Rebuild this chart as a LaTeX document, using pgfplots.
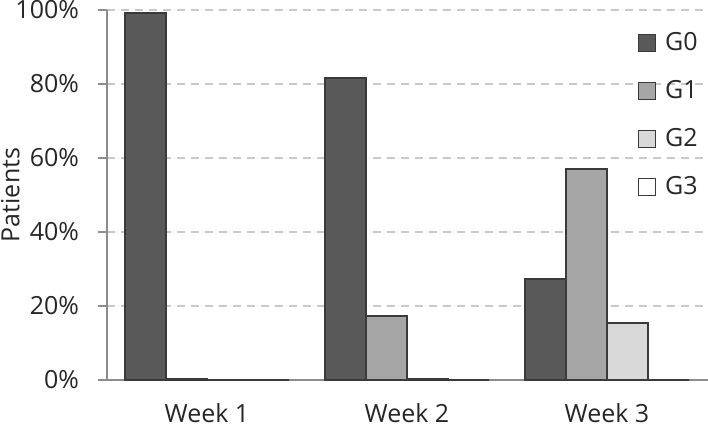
\documentclass[border=0pt]{standalone}
\usepackage{pgfplots}
\pgfplotsset{compat=1.18}
\usepackage{fontspec}
\setmainfont{Open Sans}
\definecolor{gzero}{HTML}{595959}
\definecolor{gone}{HTML}{A6A6A6}
\definecolor{gtwo}{HTML}{D9D9D9}
\definecolor{barline}{HTML}{3A3A3A}
\definecolor{axisgray}{HTML}{8C8C8C}
\definecolor{gridgray}{HTML}{C8C8C8}
\begin{document}
\begin{tikzpicture}
\useasboundingbox (-53.5pt,-23.5pt) rectangle (300.5pt,190pt);
\begin{axis}[
  at={(0,0)}, anchor=south west,
  scale only axis,
  width=300.5pt, height=185pt,
  xmin=-0.5, xmax=2.505,
  ymin=0, ymax=100,
  ybar=0pt, bar width=20.5pt,
  xtick={0,1,2},
  xticklabels={Week 1,Week 2,Week 3},
  ytick={0,20,40,60,80,100},
  yticklabels={0\%,20\%,40\%,60\%,80\%,100\%},
  axis x line*=bottom, axis y line*=left,
  axis line style={axisgray, line width=0.8pt},
  x tick style={draw=none},
  y tick style={axisgray, line width=0.8pt},
  tick align=outside, major tick length=4.5pt,
  ymajorgrids,
  grid style={gridgray, line width=0.6pt, dash pattern=on 4pt off 3pt},
  tick label style={font=\fontsize{12.5}{14}\selectfont, text=black!85},
  xticklabel style={inner ysep=0pt, yshift=-7pt},
  yticklabel style={xshift=-6pt},
  ylabel={Patients},
  every axis y label/.style={at={(axis description cs:-0.161,0.5)}, rotate=90, anchor=center,
    font=\fontsize{12.5}{14}\selectfont, text=black!85},
  legend style={draw=none, fill=none, at={(0.873,0.963)}, anchor=north west,
    font=\fontsize{12.5}{14}\selectfont, text=black!85, row sep=9.5pt,
    legend cell align=left},
  legend image code/.code={\draw[#1, draw=barline, line width=0.5pt] (0pt,-4.25pt) rectangle (8.5pt,4.25pt); \path (11pt,0pt);},
  clip=false,
]
\addplot[fill=gzero, draw=barline, line width=0.6pt] coordinates {(0,99.2) (1,81.6) (2,27.3)};
\addplot[fill=gone, draw=barline, line width=0.6pt] coordinates {(0,0.5) (1,17.3) (2,57.0)};
\addplot[fill=gtwo, draw=barline, line width=0.6pt] coordinates {(0,0) (1,0.4) (2,15.4)};
\addplot[fill=white, draw=barline, line width=0.6pt] coordinates {(0,0) (1,0) (2,0)};
\legend{G0,G1,G2,G3}
\end{axis}
\end{tikzpicture}
\end{document}
